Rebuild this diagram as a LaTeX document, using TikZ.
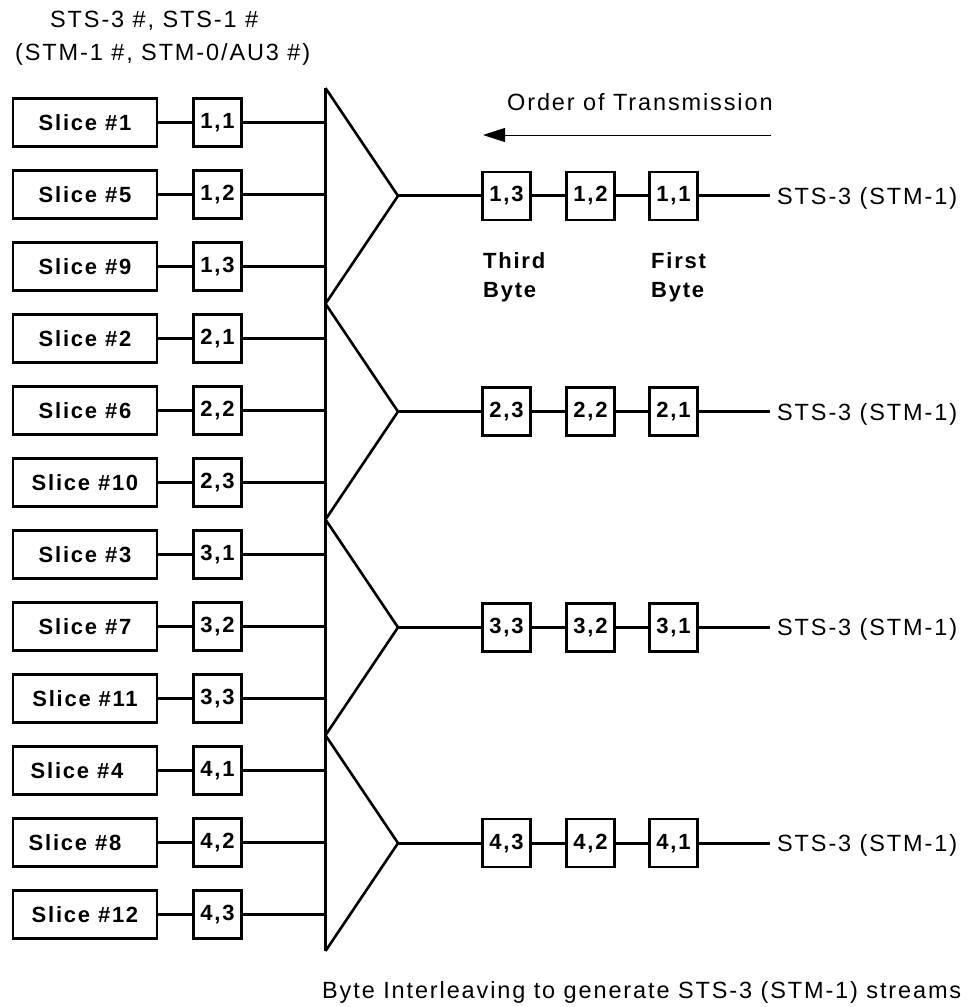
\documentclass[tikz,border=0pt]{standalone}
\usepackage{fontspec}
\setmainfont{Liberation Sans}[LetterSpace=8]
\usetikzlibrary{arrows.meta}
\begin{document}
\begin{tikzpicture}[x=1pt,y=-1pt,
  boxfont/.style={font=\bfseries\fontsize{22}{26}\selectfont},
  slicebox/.style={draw,line width=2.6pt,minimum width=144pt,minimum height=48pt,inner sep=0pt,boxfont},
  bytebox/.style={draw,line width=2.6pt,minimum width=48pt,minimum height=48pt,inner sep=0pt,boxfont},
  wire/.style={line width=2.9pt},
  lbl/.style={font=\fontsize{23.5}{28}\selectfont,inner sep=0pt,anchor=base west},
  blbl/.style={font=\bfseries\fontsize{22}{26}\selectfont,inner sep=0pt,anchor=base west},
]
\useasboundingbox (0,0) rectangle (968,1007);
\fill[white] (0,0) rectangle (968,1007);

% top labels
\node[lbl] (t1) at (50,27) {STS-3 \#, STS-1 \#};
\node[lbl] (t2) at (15,60) {(STM-1 \#, STM-0/AU3 \#)};

% vertical bar
\coordinate (bartop) at (325.5,88);
\coordinate (barbot) at (325.5,951);
\draw[wire] (bartop) -- (barbot);

% left rows
\foreach \k/\s/\b/\dx in {0/1/{1,1}/0,1/5/{1,2}/0,2/9/{1,3}/0,3/2/{2,1}/0,4/6/{2,2}/0,5/10/{2,3}/0,6/3/{3,1}/0,7/7/{3,2}/0,8/11/{3,3}/0,9/4/{4,1}/-8,10/8/{4,2}/-10,11/12/{4,3}/0}{
  \node[slicebox] (s\k) at (85,122.5+72*\k) {\hspace*{\dx pt}Slice \#\s\hspace*{-\dx pt}};
  \node[bytebox] (b\k) at (217.5,122.5+72*\k) {\b};
  \draw[wire] (s\k.east) -- (b\k.west);
  \draw[wire] (b\k.east) -- (b\k.east -| bartop);
}

% groups
\foreach \g in {1,2,3,4}{
  \coordinate (gt\g) at (325.5,88+215.75*\g-215.75);
  \coordinate (ga\g) at (398,88+215.75*\g-107.875);
  \coordinate (gb\g) at (325.5,88+215.75*\g);
  \draw[line width=2.6pt,line join=miter] (gt\g) -- (ga\g) -- (gb\g);
  \node[bytebox] (o\g3) at (506.5,88+215.75*\g-107.875) {\g,3};
  \node[bytebox] (o\g2) at (590.5,88+215.75*\g-107.875) {\g,2};
  \node[bytebox] (o\g1) at (673.5,88+215.75*\g-107.875) {\g,1};
  \coordinate (oe\g) at (770,88+215.75*\g-107.875);
  \draw[wire] (ga\g) -- (o\g3.west);
  \draw[wire] (o\g3.east) -- (o\g2.west);
  \draw[wire] (o\g2.east) -- (o\g1.west);
  \draw[wire] (o\g1.east) -- (oe\g);
  \node[lbl] (ol\g) at ([xshift=7pt,yshift=-8.5pt]oe\g) {STS-3 (STM-1)};
}

% order of transmission
\node[lbl] (ord) at (507,110) {Order of Transmission};
\coordinate (arS) at (771,135);
\coordinate (arE) at (483,135);
\draw[line width=1pt,-{Triangle[length=22pt,width=14pt]}] (arS) -- (arE);

\node[blbl] (th1) at (483,268) {Third};
\node[blbl] (th2) at (483,297) {Byte};
\node[blbl] (fi1) at (651,268) {First};
\node[blbl] (fi2) at (651,297) {Byte};

% caption
\node[lbl] (cap) at (322,998) {Byte Interleaving to generate STS-3 (STM-1) streams};
\end{tikzpicture}
\end{document}
